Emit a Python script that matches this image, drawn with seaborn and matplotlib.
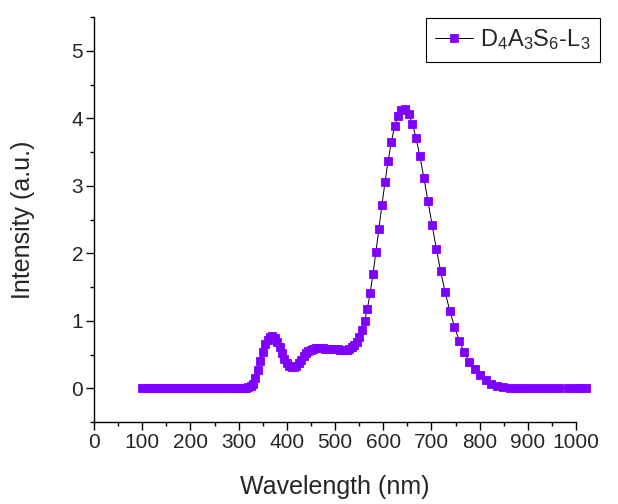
import matplotlib
matplotlib.use("Agg")
import pandas as pd
import seaborn as sns
import matplotlib.pyplot as plt
from matplotlib.ticker import MultipleLocator

# wavelength (nm) and intensity
wavelength = [
    100, 110, 120, 130, 140, 150, 160, 170, 180, 190,
    200, 210, 220, 230, 240, 250, 260, 270, 280, 290,
    295, 300, 305, 310, 315, 320, 325, 330, 335, 340,
    345, 350, 355, 360, 365, 370, 375, 380, 385, 390,
    395, 400, 405, 410, 415, 420, 425, 430, 435, 440,
    445, 450, 455, 460, 465, 470, 475, 480, 485, 490,
    495, 500,
    501.6, 506.1, 510.7, 515.4, 520.1, 525.0, 529.9, 534.9, 540.1, 545.3,
    550.6, 556.1, 561.6, 567.2, 573.0, 578.9, 584.9, 591.0, 597.3, 603.7,
    610.2, 616.9, 623.7, 630.7, 637.9, 645.2, 652.6, 660.3, 668.1, 676.1,
    684.3, 692.7, 701.4, 710.2, 719.3, 728.6, 738.1, 747.9, 758.0, 768.3,
    778.9, 789.8, 801.0, 812.6, 824.5, 836.7, 849.3, 862.3, 875.7, 889.5,
    903.8, 918.5, 933.7, 949.5, 965.7, 982.6, 1000.0, 1010, 1020,
]
intensity = [
    0, 0, 0, 0, 0, 0, 0, 0, 0, 0,
    0, 0, 0, 0, 0, 0, 0, 0, 0, 0,
    0, 0, 0, 0.005, 0.01, 0.02, 0.04, 0.06, 0.15, 0.27,
    0.40, 0.54, 0.65, 0.72, 0.76, 0.77, 0.75, 0.69, 0.61, 0.52,
    0.43, 0.37, 0.33, 0.31, 0.31, 0.33, 0.37, 0.42, 0.48, 0.52,
    0.55, 0.57, 0.585, 0.595, 0.595, 0.59, 0.59, 0.585, 0.58, 0.58,
    0.575, 0.575,
    0.575, 0.575, 0.57, 0.565, 0.565, 0.57, 0.585, 0.61, 0.645, 0.69,
    0.76, 0.87, 1.00, 1.18, 1.41, 1.70, 2.02, 2.36, 2.71, 3.05,
    3.37, 3.65, 3.88, 4.03, 4.12, 4.13, 4.07, 3.92, 3.71, 3.44,
    3.12, 2.78, 2.42, 2.07, 1.73, 1.42, 1.15, 0.91, 0.70, 0.53,
    0.39, 0.28, 0.20, 0.12, 0.065, 0.035, 0.02, 0.01, 0.006, 0.003,
    0.002, 0.001, 0, 0, 0, 0, 0, 0, 0,
]
series_label = "D$_4$A$_3$S$_6$-L$_3$"

df = pd.DataFrame({"wavelength": wavelength, "intensity": intensity})

sns.set_style("ticks")
plt.rcParams["font.family"] = ["Liberation Sans", "DejaVu Sans"]
plt.rcParams["mathtext.default"] = "regular"

fig = plt.figure(figsize=(6.18, 5.04), dpi=100)
ax = fig.add_axes([94 / 618, 82 / 504, 482 / 618, 405 / 504])

sns.lineplot(data=df, x="wavelength", y="intensity", ax=ax,
             estimator=None, sort=False, color="black", linewidth=0.7,
             marker="s", markersize=5.4, markerfacecolor="#8000FF",
             markeredgecolor="#8000FF", markeredgewidth=0.6,
             clip_on=False, label=series_label)

ax.set_xlim(0, 1000)
ax.set_ylim(-0.5, 5.5)
ax.xaxis.set_major_locator(MultipleLocator(100))
ax.xaxis.set_minor_locator(MultipleLocator(50))
ax.yaxis.set_major_locator(MultipleLocator(1))
ax.yaxis.set_minor_locator(MultipleLocator(0.5))

ax.tick_params(which="major", length=5.8, width=1, labelsize=15,
               direction="out", color="black", pad=2)
ax.tick_params(which="minor", length=3.2, width=1, direction="out", color="black")
sns.despine(ax=ax)
for s in ["left", "bottom"]:
    ax.spines[s].set_linewidth(1)
    ax.spines[s].set_color("black")

ax.set_xlabel("Wavelength (nm)", fontsize=18, labelpad=17)
ax.set_ylabel("Intensity (a.u.)", fontsize=18, labelpad=26)

leg = ax.legend(loc="upper right", bbox_to_anchor=(600 / 618, 1 - 18 / 504),
                bbox_transform=fig.transFigure, frameon=True, fancybox=False,
                edgecolor="black", framealpha=1, fontsize=17,
                handlelength=1.6, handletextpad=0.3, borderpad=0.4,
                borderaxespad=0)
leg.get_frame().set_linewidth(0.8)

fig.savefig("out.png", dpi=100)
